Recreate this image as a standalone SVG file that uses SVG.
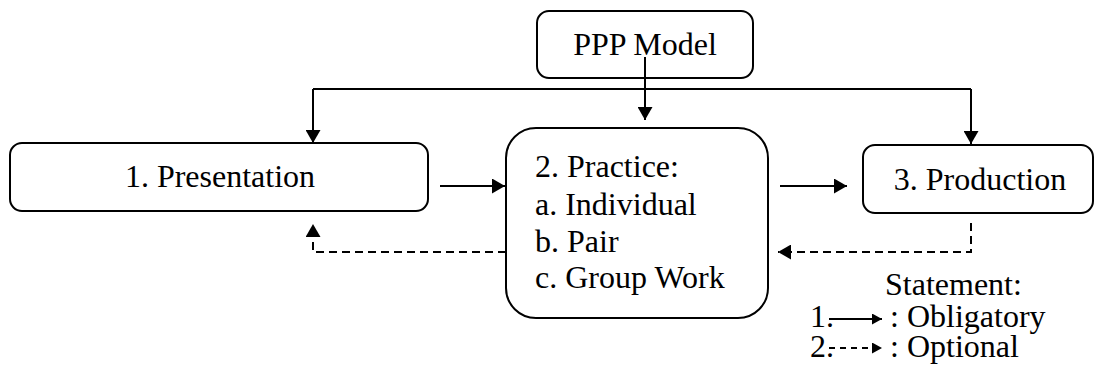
<svg xmlns="http://www.w3.org/2000/svg" width="1094" height="378" viewBox="0 0 1094 378" font-family="Liberation Serif, Times New Roman, serif">
<style>
.box{fill:#fff;stroke:#000;stroke-width:2}
.t{font-family:'Liberation Serif','Times New Roman',serif;font-size:32px;fill:#000}
.c{fill:none;stroke:#000;stroke-width:2}
.d{stroke-dasharray:8 5}
.ld{stroke-dasharray:6 5}
</style>
<defs>
<marker id="ah" markerUnits="userSpaceOnUse" markerWidth="14" markerHeight="15" refX="13" refY="7.5" orient="auto">
<path d="M0,0 L13,7.5 L0,15 z" fill="#000"/>
</marker>
<marker id="ahs" markerUnits="userSpaceOnUse" markerWidth="11" markerHeight="11" refX="10" refY="5.5" orient="auto">
<path d="M0,0 L10,5.5 L0,11 z" fill="#000"/>
</marker>
</defs>
<rect width="1094" height="378" fill="#fff"/>
<g id="ppp">
<rect class="box" x="537" y="11" width="216" height="67" rx="12"/>
<text class="t" x="645" y="55" text-anchor="middle">PPP Model</text>
</g>
<g id="presentation">
<rect class="box" x="10" y="143" width="418" height="68" rx="12"/>
<text class="t" x="220" y="187" text-anchor="middle">1. Presentation</text>
</g>
<g id="practice">
<rect class="box" x="506" y="128" width="262" height="190" rx="30"/>
<text class="t" x="535" y="177">2. Practice:</text>
<text class="t" x="535" y="215">a. Individual</text>
<text class="t" x="535" y="252">b. Pair</text>
<text class="t" x="535" y="288">c. Group Work</text>
</g>
<g id="production">
<rect class="box" x="863" y="145" width="230" height="68" rx="12"/>
<text class="t" x="980" y="190" text-anchor="middle">3. Production</text>
</g>
<g id="connectors">
<line class="c" x1="645" y1="57" x2="645" y2="120" marker-end="url(#ah)"/>
<line class="c" x1="313" y1="89" x2="971" y2="89"/>
<line class="c" x1="313" y1="89" x2="313" y2="143" marker-end="url(#ah)"/>
<line class="c" x1="971" y1="89" x2="971" y2="144" marker-end="url(#ah)"/>
<line class="c" x1="440" y1="186" x2="505" y2="186" marker-end="url(#ah)"/>
<line class="c" x1="780" y1="186" x2="847" y2="186" marker-end="url(#ah)"/>
<path class="c d" d="M971,223 V252 H778" marker-end="url(#ah)"/>
<path class="c d" d="M506,252 H313 V224" marker-end="url(#ah)"/>
</g>
<g id="legend">
<text class="t" x="885" y="295">Statement:</text>
<text class="t" x="810" y="327">1.</text>
<line class="c" x1="829" y1="319" x2="882" y2="319" marker-end="url(#ahs)"/>
<text class="t" x="890" y="327">: Obligatory</text>
<text class="t" x="810" y="357">2.</text>
<line class="c ld" x1="829" y1="348" x2="882" y2="348" marker-end="url(#ahs)"/>
<text class="t" x="890" y="357">: Optional</text>
</g>
</svg>
